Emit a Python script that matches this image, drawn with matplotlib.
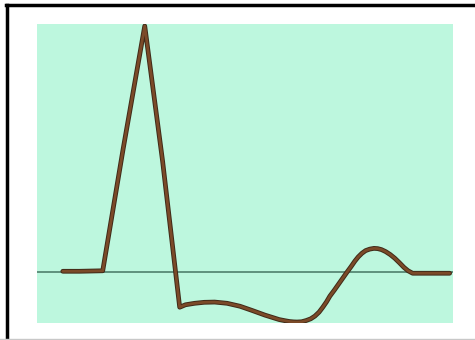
import matplotlib.pyplot as plt

# Potencial de accion (unidades arbitrarias)
tiempo = [6.0, 10.0, 15.6, 20.5, 25.7, 30.0, 34.1, 35.5, 37.7, 40.0, 42.5, 45.5,
          48.6, 51.5, 54.6, 56.5, 58.0, 59.5, 60.5, 61.5, 62.3, 63.4, 64.5, 65.6,
          66.6, 67.6, 68.5, 69.4, 70.2, 71.3, 72.3, 73.3, 74.3, 75.3, 76.2, 77.0,
          77.9, 78.8, 79.8, 80.8, 81.7, 82.6, 83.6, 84.7, 85.8, 86.9, 88.0, 89.0,
          90.1, 94.0, 99.0]
voltaje = [0.4, 0.4, 0.6, 50.0, 100.0, 45.0, -14.2, -13.2, -12.6, -12.2, -12.1, -12.6,
           -13.8, -15.5, -17.4, -18.4, -19.2, -19.7, -20.0, -20.15, -20.2, -20.1, -19.6, -18.9,
           -17.8, -16.2, -14.2, -12.0, -9.7, -7.2, -4.8, -2.4, 0.0, 2.3, 4.5, 6.2,
           7.7, 8.8, 9.4, 9.7, 9.6, 9.2, 8.4, 7.2, 5.7, 3.9, 2.0, 0.6,
           -0.4, -0.4, -0.4]
linea_base = 0.0

fig = plt.figure(figsize=(4.75, 3.4), dpi=100)
fig.patch.set_facecolor('white')

# marco de la imagen (izquierda y arriba negro, abajo gris)
fig.add_artist(plt.Line2D([7 / 475, 7 / 475], [0, 1 - 5 / 340], color='black', linewidth=2.5))
fig.add_artist(plt.Line2D([6 / 475, 1], [1 - 5 / 340] * 2, color='black', linewidth=2.5))
fig.add_artist(plt.Line2D([0, 1], [1 - 339 / 340] * 2, color='#c8c8c8', linewidth=1))

ax = fig.add_axes([37 / 475, 1 - 323 / 340, (453 - 37) / 475, (323 - 24) / 340])
ax.set_facecolor('#bdf7de')
ax.axhline(linea_base, color='#4f7f6c', linewidth=1.2)
ax.plot(tiempo, voltaje, color='#3f2a18', linewidth=3.4, solid_capstyle='round', solid_joinstyle='round')
ax.plot(tiempo, voltaje, color='#7b4a28', linewidth=2.0, solid_capstyle='round', solid_joinstyle='round')
ax.set_xlim(-0.2, 99.8)
ax.set_ylim(-20.6, 100.8)
ax.set_xticks([])
ax.set_yticks([])
for s in ax.spines.values():
    s.set_visible(False)

plt.savefig('out.png', dpi=100)
